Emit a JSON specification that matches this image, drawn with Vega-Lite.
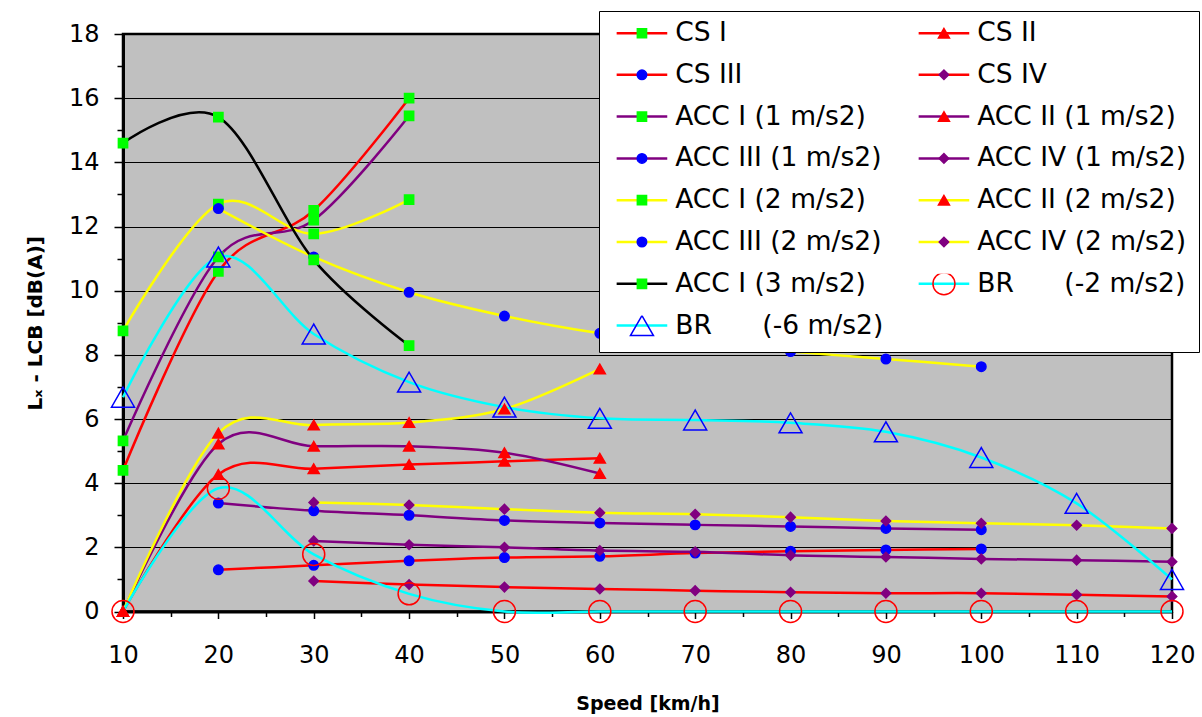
{
  "$schema": "https://vega.github.io/schema/vega-lite/v6.json",
  "width": 1049,
  "height": 577.5,
  "autosize": {"type": "none"},
  "padding": {"left": 123, "top": 34, "right": 30, "bottom": 105.5},
  "background": "white",
  "config": {
    "font": "DejaVu Sans",
    "view": {"fill": "#C0C0C0", "stroke": "black", "strokeWidth": 2.5},
    "axis": {"labelFont": "DejaVu Sans", "titleFont": "DejaVu Sans", "labelColor": "black", "titleColor": "black"},
    "legend": {"labelFont": "DejaVu Sans"}
  },
  "datasets": {
    "pts": [
      {"s": "CS I", "x": 10, "y": 4.4}, {"s": "CS I", "x": 20, "y": 10.6}, {"s": "CS I", "x": 30, "y": 12.5}, {"s": "CS I", "x": 40, "y": 16.0},
      {"s": "CS II", "x": 10, "y": 0}, {"s": "CS II", "x": 20, "y": 4.27}, {"s": "CS II", "x": 30, "y": 4.45}, {"s": "CS II", "x": 40, "y": 4.58}, {"s": "CS II", "x": 50, "y": 4.68}, {"s": "CS II", "x": 60, "y": 4.78},
      {"s": "CS III", "x": 20, "y": 1.3}, {"s": "CS III", "x": 30, "y": 1.44}, {"s": "CS III", "x": 40, "y": 1.58}, {"s": "CS III", "x": 50, "y": 1.68}, {"s": "CS III", "x": 60, "y": 1.72}, {"s": "CS III", "x": 70, "y": 1.82}, {"s": "CS III", "x": 80, "y": 1.88}, {"s": "CS III", "x": 90, "y": 1.92}, {"s": "CS III", "x": 100, "y": 1.95},
      {"s": "CS IV", "x": 30, "y": 0.95}, {"s": "CS IV", "x": 40, "y": 0.84}, {"s": "CS IV", "x": 50, "y": 0.76}, {"s": "CS IV", "x": 60, "y": 0.7}, {"s": "CS IV", "x": 70, "y": 0.65}, {"s": "CS IV", "x": 80, "y": 0.6}, {"s": "CS IV", "x": 90, "y": 0.57}, {"s": "CS IV", "x": 100, "y": 0.57}, {"s": "CS IV", "x": 110, "y": 0.52}, {"s": "CS IV", "x": 120, "y": 0.47},
      {"s": "ACC I (1 m/s2)", "x": 10, "y": 5.32}, {"s": "ACC I (1 m/s2)", "x": 20, "y": 11.05}, {"s": "ACC I (1 m/s2)", "x": 30, "y": 12.2}, {"s": "ACC I (1 m/s2)", "x": 40, "y": 15.45},
      {"s": "ACC II (1 m/s2)", "x": 10, "y": 0}, {"s": "ACC II (1 m/s2)", "x": 20, "y": 5.22}, {"s": "ACC II (1 m/s2)", "x": 30, "y": 5.15}, {"s": "ACC II (1 m/s2)", "x": 40, "y": 5.15}, {"s": "ACC II (1 m/s2)", "x": 50, "y": 4.95}, {"s": "ACC II (1 m/s2)", "x": 60, "y": 4.3},
      {"s": "ACC III (1 m/s2)", "x": 20, "y": 3.38}, {"s": "ACC III (1 m/s2)", "x": 30, "y": 3.14}, {"s": "ACC III (1 m/s2)", "x": 40, "y": 3.0}, {"s": "ACC III (1 m/s2)", "x": 50, "y": 2.84}, {"s": "ACC III (1 m/s2)", "x": 60, "y": 2.76}, {"s": "ACC III (1 m/s2)", "x": 70, "y": 2.7}, {"s": "ACC III (1 m/s2)", "x": 80, "y": 2.65}, {"s": "ACC III (1 m/s2)", "x": 90, "y": 2.59}, {"s": "ACC III (1 m/s2)", "x": 100, "y": 2.55},
      {"s": "ACC IV (1 m/s2)", "x": 30, "y": 2.2}, {"s": "ACC IV (1 m/s2)", "x": 40, "y": 2.08}, {"s": "ACC IV (1 m/s2)", "x": 50, "y": 2.0}, {"s": "ACC IV (1 m/s2)", "x": 60, "y": 1.9}, {"s": "ACC IV (1 m/s2)", "x": 70, "y": 1.86}, {"s": "ACC IV (1 m/s2)", "x": 80, "y": 1.75}, {"s": "ACC IV (1 m/s2)", "x": 90, "y": 1.7}, {"s": "ACC IV (1 m/s2)", "x": 100, "y": 1.64}, {"s": "ACC IV (1 m/s2)", "x": 110, "y": 1.6}, {"s": "ACC IV (1 m/s2)", "x": 120, "y": 1.55},
      {"s": "ACC I (2 m/s2)", "x": 10, "y": 8.75}, {"s": "ACC I (2 m/s2)", "x": 20, "y": 12.7}, {"s": "ACC I (2 m/s2)", "x": 30, "y": 11.77}, {"s": "ACC I (2 m/s2)", "x": 40, "y": 12.84},
      {"s": "ACC II (2 m/s2)", "x": 10, "y": 0}, {"s": "ACC II (2 m/s2)", "x": 20, "y": 5.56}, {"s": "ACC II (2 m/s2)", "x": 30, "y": 5.81}, {"s": "ACC II (2 m/s2)", "x": 40, "y": 5.89}, {"s": "ACC II (2 m/s2)", "x": 50, "y": 6.31}, {"s": "ACC II (2 m/s2)", "x": 60, "y": 7.56},
      {"s": "ACC III (2 m/s2)", "x": 20, "y": 12.56}, {"s": "ACC III (2 m/s2)", "x": 30, "y": 11.05}, {"s": "ACC III (2 m/s2)", "x": 40, "y": 9.95}, {"s": "ACC III (2 m/s2)", "x": 50, "y": 9.21}, {"s": "ACC III (2 m/s2)", "x": 60, "y": 8.67}, {"s": "ACC III (2 m/s2)", "x": 70, "y": 8.31}, {"s": "ACC III (2 m/s2)", "x": 80, "y": 8.1}, {"s": "ACC III (2 m/s2)", "x": 90, "y": 7.87}, {"s": "ACC III (2 m/s2)", "x": 100, "y": 7.63},
      {"s": "ACC IV (2 m/s2)", "x": 30, "y": 3.4}, {"s": "ACC IV (2 m/s2)", "x": 40, "y": 3.32}, {"s": "ACC IV (2 m/s2)", "x": 50, "y": 3.19}, {"s": "ACC IV (2 m/s2)", "x": 60, "y": 3.08}, {"s": "ACC IV (2 m/s2)", "x": 70, "y": 3.03}, {"s": "ACC IV (2 m/s2)", "x": 80, "y": 2.94}, {"s": "ACC IV (2 m/s2)", "x": 90, "y": 2.82}, {"s": "ACC IV (2 m/s2)", "x": 100, "y": 2.75}, {"s": "ACC IV (2 m/s2)", "x": 110, "y": 2.69}, {"s": "ACC IV (2 m/s2)", "x": 120, "y": 2.59},
      {"s": "ACC I (3 m/s2)", "x": 10, "y": 14.6}, {"s": "ACC I (3 m/s2)", "x": 20, "y": 15.41}, {"s": "ACC I (3 m/s2)", "x": 30, "y": 10.96}, {"s": "ACC I (3 m/s2)", "x": 40, "y": 8.29},
      {"s": "BR\u00a0\u00a0\u00a0\u00a0\u00a0\u00a0(-2 m/s2)", "x": 10, "y": 0}, {"s": "BR\u00a0\u00a0\u00a0\u00a0\u00a0\u00a0(-2 m/s2)", "x": 20, "y": 3.84}, {"s": "BR\u00a0\u00a0\u00a0\u00a0\u00a0\u00a0(-2 m/s2)", "x": 30, "y": 1.78}, {"s": "BR\u00a0\u00a0\u00a0\u00a0\u00a0\u00a0(-2 m/s2)", "x": 40, "y": 0.55}, {"s": "BR\u00a0\u00a0\u00a0\u00a0\u00a0\u00a0(-2 m/s2)", "x": 50, "y": 0}, {"s": "BR\u00a0\u00a0\u00a0\u00a0\u00a0\u00a0(-2 m/s2)", "x": 60, "y": 0}, {"s": "BR\u00a0\u00a0\u00a0\u00a0\u00a0\u00a0(-2 m/s2)", "x": 70, "y": 0}, {"s": "BR\u00a0\u00a0\u00a0\u00a0\u00a0\u00a0(-2 m/s2)", "x": 80, "y": 0}, {"s": "BR\u00a0\u00a0\u00a0\u00a0\u00a0\u00a0(-2 m/s2)", "x": 90, "y": 0}, {"s": "BR\u00a0\u00a0\u00a0\u00a0\u00a0\u00a0(-2 m/s2)", "x": 100, "y": 0}, {"s": "BR\u00a0\u00a0\u00a0\u00a0\u00a0\u00a0(-2 m/s2)", "x": 110, "y": 0}, {"s": "BR\u00a0\u00a0\u00a0\u00a0\u00a0\u00a0(-2 m/s2)", "x": 120, "y": 0},
      {"s": "BR\u00a0\u00a0\u00a0\u00a0\u00a0\u00a0(-6 m/s2)", "x": 10, "y": 6.68}, {"s": "BR\u00a0\u00a0\u00a0\u00a0\u00a0\u00a0(-6 m/s2)", "x": 20, "y": 11.05}, {"s": "BR\u00a0\u00a0\u00a0\u00a0\u00a0\u00a0(-6 m/s2)", "x": 30, "y": 8.65}, {"s": "BR\u00a0\u00a0\u00a0\u00a0\u00a0\u00a0(-6 m/s2)", "x": 40, "y": 7.15}, {"s": "BR\u00a0\u00a0\u00a0\u00a0\u00a0\u00a0(-6 m/s2)", "x": 50, "y": 6.37}, {"s": "BR\u00a0\u00a0\u00a0\u00a0\u00a0\u00a0(-6 m/s2)", "x": 60, "y": 6.02}, {"s": "BR\u00a0\u00a0\u00a0\u00a0\u00a0\u00a0(-6 m/s2)", "x": 70, "y": 5.97}, {"s": "BR\u00a0\u00a0\u00a0\u00a0\u00a0\u00a0(-6 m/s2)", "x": 80, "y": 5.88}, {"s": "BR\u00a0\u00a0\u00a0\u00a0\u00a0\u00a0(-6 m/s2)", "x": 90, "y": 5.6}, {"s": "BR\u00a0\u00a0\u00a0\u00a0\u00a0\u00a0(-6 m/s2)", "x": 100, "y": 4.8}, {"s": "BR\u00a0\u00a0\u00a0\u00a0\u00a0\u00a0(-6 m/s2)", "x": 110, "y": 3.37}, {"s": "BR\u00a0\u00a0\u00a0\u00a0\u00a0\u00a0(-6 m/s2)", "x": 120, "y": 1.0}
    ]
  },
  "data": {"name": "pts"},
  "encoding": {
    "x": {
      "field": "x", "type": "quantitative",
      "scale": {"domain": [10, 120], "nice": false, "zero": false},
      "axis": {
        "values": [10, 15, 20, 25, 30, 35, 40, 45, 50, 55, 60, 65, 70, 75, 80, 85, 90, 95, 100, 105, 110, 115, 120],
        "labelExpr": "datum.value % 10 == 0 ? datum.label : ''",
        "grid": false,
        "domainColor": "black", "domainWidth": 3,
        "tickColor": "black", "tickWidth": 1.5,
        "tickSize": {"condition": {"test": "datum.value % 10 == 0", "value": 7}, "value": 5},
        "labelFontSize": 24, "labelPadding": 25, "labelFlush": false, "labelOverlap": false,
        "title": "Speed [km/h]", "titleFontSize": 19, "titleFontWeight": "bold", "titlePadding": 27
      }
    },
    "y": {
      "field": "y", "type": "quantitative",
      "scale": {"domain": [0, 18], "nice": false, "zero": false},
      "axis": {
        "values": [0, 1, 2, 3, 4, 5, 6, 7, 8, 9, 10, 11, 12, 13, 14, 15, 16, 17, 18],
        "labelExpr": "datum.value % 2 == 0 ? datum.label : ''",
        "grid": true, "gridColor": "black", "gridWidth": 1,
        "gridOpacity": {"condition": {"test": "datum.value % 2 == 0", "value": 1}, "value": 0},
        "domainColor": "black", "domainWidth": 3,
        "tickColor": "black", "tickWidth": 1.5,
        "tickSize": {"condition": {"test": "datum.value % 2 == 0", "value": 9}, "value": 6},
        "labelFontSize": 24, "labelPadding": 15, "labelFlush": false, "labelOverlap": false,
        "title": "Lₓ - LCB [dB(A)]", "titleFontSize": 20, "titleFontWeight": "bold", "titlePadding": 23
      }
    }
  },
  "layer": [
    {
      "mark": {"type": "line", "interpolate": "cardinal", "tension": 0, "strokeWidth": 2.5, "clip": false},
      "encoding": {
        "stroke": {
          "field": "s", "type": "nominal",
          "scale": {
            "domain": ["CS I", "CS III", "ACC I (1 m/s2)", "ACC III (1 m/s2)", "ACC I (2 m/s2)", "ACC III (2 m/s2)", "ACC I (3 m/s2)", "BR\u00a0\u00a0\u00a0\u00a0\u00a0\u00a0(-6 m/s2)", "CS II", "CS IV", "ACC II (1 m/s2)", "ACC IV (1 m/s2)", "ACC II (2 m/s2)", "ACC IV (2 m/s2)", "BR\u00a0\u00a0\u00a0\u00a0\u00a0\u00a0(-2 m/s2)"],
            "range": ["#FF0000", "#FF0000", "#800080", "#800080", "#FFFF00", "#FFFF00", "#000000", "#00FFFF", "#FF0000", "#FF0000", "#800080", "#800080", "#FFFF00", "#FFFF00", "#00FFFF"]
          },
          "legend": {
            "orient": "none", "legendX": 476, "legendY": -23, "title": null, "columns": 2,
            "symbolType": "M-2.3,0H2.3", "symbolSize": 484, "symbolStrokeWidth": 2.5,
            "labelFontSize": 26.5, "labelColor": "black", "labelLimit": 400,
            "labelOffset": 20, "symbolOffset": 17.7, "clipHeight": 20,
            "rowPadding": 14.8, "columnPadding": 29, "padding": 12,
            "fillColor": "white", "strokeColor": "black"
          }
        }
      }
    },
    {
      "mark": {"type": "point", "strokeWidth": 1.5, "opacity": 1, "clip": false},
      "encoding": {
        "fill": {
          "field": "s", "type": "nominal",
          "scale": {
            "domain": ["CS I", "CS III", "ACC I (1 m/s2)", "ACC III (1 m/s2)", "ACC I (2 m/s2)", "ACC III (2 m/s2)", "ACC I (3 m/s2)", "BR\u00a0\u00a0\u00a0\u00a0\u00a0\u00a0(-6 m/s2)", "CS II", "CS IV", "ACC II (1 m/s2)", "ACC IV (1 m/s2)", "ACC II (2 m/s2)", "ACC IV (2 m/s2)", "BR\u00a0\u00a0\u00a0\u00a0\u00a0\u00a0(-2 m/s2)"],
            "range": ["#00FF00", "#0000FF", "#00FF00", "#0000FF", "#00FF00", "#0000FF", "#00FF00", "transparent", "#FF0000", "#800080", "#FF0000", "#800080", "#FF0000", "#800080", "transparent"]
          },
          "legend": {
            "orient": "none", "legendX": 476, "legendY": -23, "title": null, "columns": 2,
            "symbolStrokeWidth": 1.5, "labelFontSize": 26.5, "labelOpacity": 0, "labelLimit": 400,
            "labelOffset": 20, "symbolOffset": 17.7, "clipHeight": 20,
            "rowPadding": 14.8, "columnPadding": 29, "padding": 12
          }
        },
        "stroke": {
          "field": "s", "type": "nominal",
          "scale": {
            "domain": ["CS I", "CS III", "ACC I (1 m/s2)", "ACC III (1 m/s2)", "ACC I (2 m/s2)", "ACC III (2 m/s2)", "ACC I (3 m/s2)", "BR\u00a0\u00a0\u00a0\u00a0\u00a0\u00a0(-6 m/s2)", "CS II", "CS IV", "ACC II (1 m/s2)", "ACC IV (1 m/s2)", "ACC II (2 m/s2)", "ACC IV (2 m/s2)", "BR\u00a0\u00a0\u00a0\u00a0\u00a0\u00a0(-2 m/s2)"],
            "range": ["#00FF00", "#0000FF", "#00FF00", "#0000FF", "#00FF00", "#0000FF", "#00FF00", "#0000FF", "#FF0000", "#800080", "#FF0000", "#800080", "#FF0000", "#800080", "#FF0000"]
          },
          "legend": {
            "orient": "none", "legendX": 476, "legendY": -23, "title": null, "columns": 2,
            "symbolStrokeWidth": 1.5, "labelFontSize": 26.5, "labelOpacity": 0, "labelLimit": 400,
            "labelOffset": 20, "symbolOffset": 17.7, "clipHeight": 20,
            "rowPadding": 14.8, "columnPadding": 29, "padding": 12
          }
        },
        "shape": {
          "field": "s", "type": "nominal",
          "scale": {
            "domain": ["CS I", "CS III", "ACC I (1 m/s2)", "ACC III (1 m/s2)", "ACC I (2 m/s2)", "ACC III (2 m/s2)", "ACC I (3 m/s2)", "BR\u00a0\u00a0\u00a0\u00a0\u00a0\u00a0(-6 m/s2)", "CS II", "CS IV", "ACC II (1 m/s2)", "ACC IV (1 m/s2)", "ACC II (2 m/s2)", "ACC IV (2 m/s2)", "BR\u00a0\u00a0\u00a0\u00a0\u00a0\u00a0(-2 m/s2)"],
            "range": ["square", "circle", "square", "circle", "square", "circle", "square", "triangle-up", "triangle-up", "diamond", "triangle-up", "diamond", "triangle-up", "diamond", "circle"]
          },
          "legend": {
            "orient": "none", "legendX": 476, "legendY": -23, "title": null, "columns": 2,
            "symbolStrokeWidth": 1.5, "labelFontSize": 26.5, "labelOpacity": 0, "labelLimit": 400,
            "labelOffset": 20, "symbolOffset": 17.7, "clipHeight": 20,
            "rowPadding": 14.8, "columnPadding": 29, "padding": 12
          }
        },
        "size": {
          "field": "s", "type": "nominal",
          "scale": {
            "type": "ordinal",
            "domain": ["CS I", "CS III", "ACC I (1 m/s2)", "ACC III (1 m/s2)", "ACC I (2 m/s2)", "ACC III (2 m/s2)", "ACC I (3 m/s2)", "BR\u00a0\u00a0\u00a0\u00a0\u00a0\u00a0(-6 m/s2)", "CS II", "CS IV", "ACC II (1 m/s2)", "ACC IV (1 m/s2)", "ACC II (2 m/s2)", "ACC IV (2 m/s2)", "BR\u00a0\u00a0\u00a0\u00a0\u00a0\u00a0(-2 m/s2)"],
            "range": [85, 90, 85, 90, 85, 90, 85, 529, 121, 90, 121, 90, 121, 90, 484]
          },
          "legend": {
            "orient": "none", "legendX": 476, "legendY": -23, "title": null, "columns": 2,
            "symbolStrokeWidth": 1.5, "labelFontSize": 26.5, "labelOpacity": 0, "labelLimit": 400,
            "labelOffset": 20, "symbolOffset": 17.7, "clipHeight": 20,
            "rowPadding": 14.8, "columnPadding": 29, "padding": 12
          }
        }
      }
    }
  ],
  "resolve": {"scale": {"stroke": "independent", "fill": "independent", "shape": "independent", "size": "independent"}}
}
